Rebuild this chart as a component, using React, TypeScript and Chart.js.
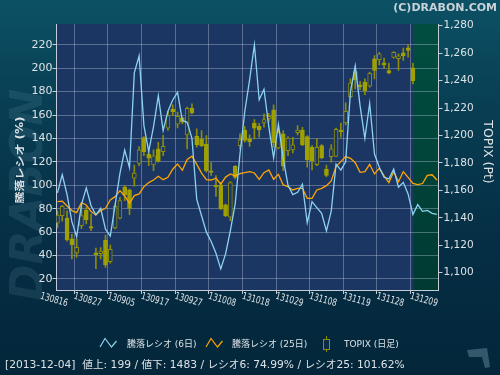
import React, { useEffect, useRef } from 'react';
import { Chart, registerables } from 'chart.js';

Chart.register(...registerables);

// ---- data ----
const dateLabels = ['130816', '130827', '130905', '130917', '130927', '131008', '131018', '131029', '131108', '131119', '131128', '131209'];
const labelStep = 7;

const topixOpen = [1136, 1141.6, 1139.7, 1124.6, 1114.4, 1134.3, 1145.7, 1133.6, 1114.4, 1113.9,
  1123.6, 1108.1, 1132.6, 1139.7, 1162.3, 1160.3, 1168.8, 1179.7, 1198.5, 1186.5,
  1178.5, 1190.2, 1188.2, 1205.3, 1219.3, 1208.2, 1212.8, 1200.4, 1219.8, 1199.4,
  1197.2, 1193.8, 1174.2, 1163.7, 1164, 1149.4, 1140.4, 1177.6, 1192.6, 1204,
  1197.5, 1209.1, 1206.7, 1209.1, 1212.1, 1218.6, 1190.9, 1201.1, 1189, 1189.5,
  1202.1, 1204, 1199.2, 1191.4, 1178.8, 1192.6, 1175.4, 1184.6, 1184.8, 1204,
  1209.1, 1228.3, 1246.6, 1236.8, 1238.8, 1235.9, 1255.8, 1255.3, 1252.9, 1247.3,
  1256.8, 1256, 1260.2, 1263.8, 1249.2];
const topixHigh = [1145, 1149, 1145, 1128, 1124.6, 1149, 1148, 1142.8, 1118, 1118.3,
  1127.5, 1120.2, 1150, 1155, 1163.5, 1161, 1178.5, 1191.9, 1199.2, 1189,
  1189.5, 1195, 1200, 1217.6, 1222.3, 1217, 1213.3, 1220.6, 1223, 1204.8,
  1203.6, 1199.9, 1180.2, 1170.8, 1165.9, 1150, 1166.4, 1178, 1201.1, 1206.5,
  1200.5, 1211.6, 1208.9, 1215.7, 1216.2, 1222.3, 1204.8, 1203.6, 1199.2, 1198.7,
  1207.2, 1206, 1199.9, 1192.6, 1197.5, 1193.3, 1178.5, 1193.3, 1205.3, 1209.1,
  1223.7, 1241.2, 1247.3, 1239.5, 1241.2, 1246.1, 1258.2, 1260.6, 1256.3, 1252.6,
  1261.1, 1259.4, 1263.6, 1266.2, 1252.6];
const topixLow = [1133, 1137.5, 1123, 1110, 1111.2, 1132, 1135.5, 1130.7, 1103, 1110,
  1103.9, 1106.9, 1131.9, 1139.2, 1152.5, 1142.3, 1163, 1178, 1185.3, 1178,
  1174.4, 1180.5, 1185.3, 1203.6, 1214.5, 1205.5, 1208.4, 1190.2, 1215.7, 1191.4,
  1191.9, 1173.2, 1170.8, 1155.5, 1146, 1140.9, 1138, 1168.3, 1190.2, 1195.1,
  1192, 1197.5, 1198.7, 1206, 1209.6, 1191.4, 1190.2, 1174.4, 1185.3, 1187.3,
  1200.4, 1192.6, 1176.8, 1174.9, 1178, 1182.9, 1170, 1180.5, 1184.6, 1198.7,
  1207.7, 1227.4, 1233.9, 1233.4, 1229.8, 1235.1, 1241.2, 1251.4, 1249, 1244.9,
  1256.3, 1247.3, 1254.6, 1257, 1237.6];
const topixClose = [1142, 1148.4, 1123.9, 1120.5, 1118.5, 1141.6, 1138.7, 1132.4, 1113.2, 1115.8,
  1105.6, 1117.1, 1148.4, 1152.5, 1156.9, 1146.9, 1172.5, 1189.5, 1188.2, 1183.4,
  1185.1, 1181, 1192.1, 1214.5, 1217.4, 1214, 1209.6, 1219.8, 1216.4, 1193.3,
  1192.6, 1174.4, 1173, 1162.7, 1146.5, 1141.6, 1165.7, 1169.5, 1196.8, 1196.3,
  1195.5, 1205.3, 1204, 1211.6, 1214, 1194.6, 1202.3, 1177.6, 1198, 1193.1,
  1204, 1193.3, 1182.4, 1181.7, 1191.4, 1183.6, 1170.8, 1190.2, 1204.5, 1202.8,
  1217.6, 1238.1, 1240.7, 1235.6, 1232.7, 1245.3, 1247.3, 1259.4, 1251.4, 1245.6,
  1260.6, 1258, 1258.2, 1261.9, 1240];

const ratio6 = [93.5, 109, 92, 69, 56.2, 83.5, 97.8, 82.5, 74.8, 80.4,
  62.5, 56.6, 83, 110, 130, 115, 196, 210.5, 151, 129,
  150, 176.5, 146.7, 163.2, 172.8, 179.4, 155.2, 153.8, 140, 88,
  74, 60, 52, 42, 28.6, 41.4, 61.3, 84, 126.7, 163,
  190, 220, 173, 182, 150, 123.5, 152, 123, 100, 92,
  94, 101, 68, 86, 81, 76, 61, 78, 118, 113,
  120, 180, 202, 168, 140, 170, 126.7, 115.4, 106.8, 105.4,
  113.9, 98.3, 102.5, 92.6, 75, 83.5, 77.8, 78.5, 76, 75.2];
const ratio25 = [86, 86.5, 82.3, 78.4, 76.7, 85.2, 83.2, 77.5, 74.7, 78.4,
  80.4, 87.5, 90.3, 95.4, 90.9, 84.6, 91.2, 92.6, 98.8, 102.3,
  104.5, 107.7, 104.8, 106.8, 113.7, 118.2, 112.8, 122, 124.8, 117.8,
  110.4, 104.8, 104.5, 106, 101, 107, 109.7, 108, 110, 110.8,
  111.7, 110.5, 105.1, 110.8, 113.1, 105.1, 109.4, 100.3, 98.8, 96,
  97.4, 97.4, 88.9, 88.9, 96, 97.4, 99.7, 103.7, 115.9, 120.2,
  124.5, 123, 119.3, 111.1, 111.7, 117.9, 109.7, 114.5, 108, 102.3,
  111.7, 103.1, 111.7, 106.8, 101.6, 100.5, 101.5, 108.5, 109, 104.5];

const leftTicks = [20, 40, 60, 80, 100, 120, 140, 160, 180, 200, 220];
const rightTicks = [1100, 1120, 1140, 1160, 1180, 1200, 1220, 1240, 1260, 1280];

const legendLabels = ['騰落レシオ (6日)', '騰落レシオ (25日)', 'TOPIX (日足)'];
const statusText = '[2013-12-04]  値上: 199 / 値下: 1483 / レシオ6: 74.99% / レシオ25: 101.62%';
const copyrightText = '(C)DRABON.COM';
const leftTitle = '騰落レシオ (%)';
const rightTitle = 'TOPIX (Pt)';

// ---- styles ----
const PLOT_BG = '#1b3662';
const OLIVE = '#a0a000';
const OLIVE_DIM = '#8c8c08';
const BLUE = '#8dd2f0';
const ORANGE = '#ffa500';
const GRID = 'rgba(215,225,245,0.33)';
const AXIS = '#c4ccd6';
const TEXT = '#dde2e6';
const CJK = '"DejaVu Sans", "Noto Sans CJK JP", sans-serif';

function fmtComma(v: number) {
  return String(Math.round(v)).replace(/\B(?=(\d{3})+(?!\d))/g, ',');
}

const decorPlugin = {
  id: 'decor',
  beforeDraw(chart: any) {
    const { ctx, chartArea: a, scales } = chart;
    ctx.save();
    // watermark
    ctx.translate(31, 195);
    ctx.rotate(-Math.PI / 2);
    ctx.font = 'italic bold 44px "DejaVu Sans"';
    ctx.fillStyle = 'rgba(120,165,185,0.15)';
    ctx.textAlign = 'center';
    ctx.textBaseline = 'middle';
    ctx.fillText('DRABON', 0, 0);
    ctx.restore();

    ctx.save();
    ctx.fillStyle = PLOT_BG;
    ctx.fillRect(a.left, a.top, a.right - a.left, a.bottom - a.top);
    const gx = scales.x.getPixelForValue(topixClose.length - 1 + 0.1);
    const g = ctx.createLinearGradient(0, a.top, 0, a.bottom);
    g.addColorStop(0, '#014e40');
    g.addColorStop(1, '#003a32');
    ctx.fillStyle = g;
    ctx.fillRect(gx, a.top, a.right - gx, a.bottom - a.top);
    ctx.restore();
  },
  afterDraw(chart: any) {
    const { ctx, scales } = chart;
    const xs = scales.x;
    ctx.save();
    ctx.fillStyle = TEXT;
    // x labels, rotated clockwise
    ctx.font = '10px "DejaVu Sans"';
    dateLabels.forEach((lab, k) => {
      const px = xs.getPixelForValue(k * labelStep);
      ctx.save();
      ctx.translate(px - 3.5, 300);
      ctx.rotate((16 * Math.PI) / 180);
      ctx.scale(0.74, 1);
      ctx.textAlign = 'center';
      ctx.textBaseline = 'middle';
      ctx.fillText(lab, 0, 0);
      ctx.restore();
    });

    // left title
    ctx.save();
    ctx.translate(20, 160);
    ctx.rotate(-Math.PI / 2);
    ctx.scale(1, 0.8);
    ctx.font = 'bold 12px ' + CJK;
    ctx.textAlign = 'center';
    ctx.textBaseline = 'middle';
    ctx.fillText(leftTitle, 0, 0);
    ctx.restore();

    // right title
    ctx.save();
    ctx.translate(487, 152);
    ctx.rotate(Math.PI / 2);
    ctx.font = '12.5px "DejaVu Sans"';
    ctx.textAlign = 'center';
    ctx.textBaseline = 'middle';
    ctx.fillText(rightTitle, 0, 0);
    ctx.restore();

    // legend
    ctx.lineWidth = 1.2;
    const zig = (x: number, color: string) => {
      ctx.strokeStyle = color;
      ctx.beginPath();
      ctx.moveTo(x, 347);
      ctx.lineTo(x + 5, 338.5);
      ctx.lineTo(x + 11.5, 347);
      ctx.lineTo(x + 16.5, 341);
      ctx.stroke();
    };
    zig(100, BLUE);
    zig(206, ORANGE);
    ctx.strokeStyle = OLIVE_DIM;
    ctx.lineWidth = 1;
    ctx.beginPath();
    ctx.moveTo(326.5, 336);
    ctx.lineTo(326.5, 352);
    ctx.stroke();
    ctx.fillStyle = '#0a2d44';
    ctx.fillRect(323.5, 339.5, 6, 10);
    ctx.strokeRect(323.5, 339.5, 6, 10);

    ctx.fillStyle = TEXT;
    ctx.font = '9px ' + CJK;
    ctx.textAlign = 'left';
    ctx.textBaseline = 'middle';
    ctx.fillText(legendLabels[0], 127, 344.5);
    ctx.fillText(legendLabels[1], 232, 344.5);
    ctx.fillText(legendLabels[2], 344, 344.5);

    // status line
    ctx.font = '10.7px ' + CJK;
    ctx.fillText(statusText, 5, 365.5);

    // copyright
    ctx.font = 'bold 11px "DejaVu Sans"';
    ctx.fillStyle = '#c9d2d8';
    ctx.textAlign = 'right';
    ctx.fillText(copyrightText, 497, 8);

    // corner mark
    ctx.fillStyle = 'rgba(90,130,150,0.55)';
    ctx.beginPath();
    ctx.moveTo(467, 350);
    ctx.lineTo(487, 348);
    ctx.lineTo(488, 354);
    ctx.lineTo(490, 367);
    ctx.lineTo(485, 368);
    ctx.lineTo(482, 357);
    ctx.lineTo(469, 357);
    ctx.closePath();
    ctx.fill();
    ctx.restore();
  },
};

export default function App() {
  const ref = useRef<HTMLCanvasElement>(null);
  useEffect(() => {
    document.body.style.margin = '0';
    const canvas = ref.current;
    if (!canvas) return;
    const idx = topixOpen.map((_, i) => i);
    const chart = new Chart(canvas, {
      type: 'bar',
      data: {
        datasets: [
          {
            type: 'line',
            label: legendLabels[0],
            data: ratio6.map((v, i) => ({ x: i, y: v })),
            yAxisID: 'y',
            borderColor: BLUE,
            borderWidth: 1.3,
            pointRadius: 0,
            tension: 0,
            order: 0,
          } as any,
          {
            type: 'line',
            label: legendLabels[1],
            data: ratio25.map((v, i) => ({ x: i, y: v })),
            yAxisID: 'y',
            borderColor: ORANGE,
            borderWidth: 1.3,
            pointRadius: 0,
            tension: 0,
            order: 1,
          } as any,
          {
            type: 'bar',
            label: 'body',
            data: idx.map((i) => ({ x: i, y: [topixOpen[i], topixClose[i]] })),
            yAxisID: 'y2',
            backgroundColor: idx.map((i) => (topixClose[i] < topixOpen[i] ? OLIVE : PLOT_BG)),
            borderColor: idx.map((i) => (topixClose[i] < topixOpen[i] ? OLIVE : OLIVE_DIM)),
            borderWidth: 1,
            borderSkipped: false,
            barThickness: 4,
            grouped: false,
            order: 2,
          } as any,
          {
            type: 'bar',
            label: 'wick',
            data: idx.map((i) => ({ x: i, y: [topixLow[i], topixHigh[i]] })),
            yAxisID: 'y2',
            backgroundColor: OLIVE_DIM,
            borderWidth: 0,
            barThickness: 1,
            grouped: false,
            order: 3,
          } as any,
        ],
      },
      options: {
        responsive: false,
        maintainAspectRatio: false,
        animation: false,
        layout: { padding: { top: 24, left: 0, right: 0, bottom: 0 } },
        plugins: { legend: { display: false }, tooltip: { enabled: false } },
        scales: {
          x: {
            type: 'linear',
            min: -0.2,
            max: 79.33,
            offset: false,
            afterBuildTicks: (ax: any) => {
              ax.ticks = dateLabels.map((_, k) => ({ value: k * labelStep }));
            },
            afterFit: (ax: any) => {
              ax.height = 85;
            },
            ticks: { display: false },
            grid: { color: GRID, tickColor: AXIS, tickLength: 4, drawTicks: true },
            border: { color: AXIS, width: 1 },
          },
          y: {
            type: 'linear',
            position: 'left',
            min: 10.6,
            max: 237.7,
            afterBuildTicks: (ax: any) => {
              ax.ticks = leftTicks.map((v) => ({ value: v }));
            },
            afterFit: (ax: any) => {
              ax.width = 56.5;
            },
            ticks: { color: TEXT, padding: 0, font: { family: 'DejaVu Sans', size: 11 } },
            grid: { color: GRID, tickColor: AXIS, tickLength: 4 },
            border: { color: AXIS, width: 1 },
          },
          y2: {
            type: 'linear',
            position: 'right',
            min: 1087.4,
            max: 1281.2,
            afterBuildTicks: (ax: any) => {
              ax.ticks = rightTicks.map((v) => ({ value: v }));
            },
            afterFit: (ax: any) => {
              ax.width = 61.5;
            },
            ticks: {
              color: TEXT,
              padding: 1,
              font: { family: 'DejaVu Sans', size: 10.5 },
              callback: (v: any) => fmtComma(Number(v)),
            },
            grid: { drawOnChartArea: false, tickColor: AXIS, tickLength: 4 },
            border: { color: AXIS, width: 1 },
          },
        },
      } as any,
      plugins: [decorPlugin],
    });
    return () => chart.destroy();
  }, []);

  return (
    <div
      style={{
        position: 'fixed',
        left: 0,
        top: 0,
        width: 500,
        height: 375,
        background: 'linear-gradient(180deg, #0c5165 0%, #083d52 30%, #052e44 65%, #03263a 100%)',
      }}
    >
      <canvas ref={ref} width={500} height={375} style={{ display: 'block' }} />
    </div>
  );
}
